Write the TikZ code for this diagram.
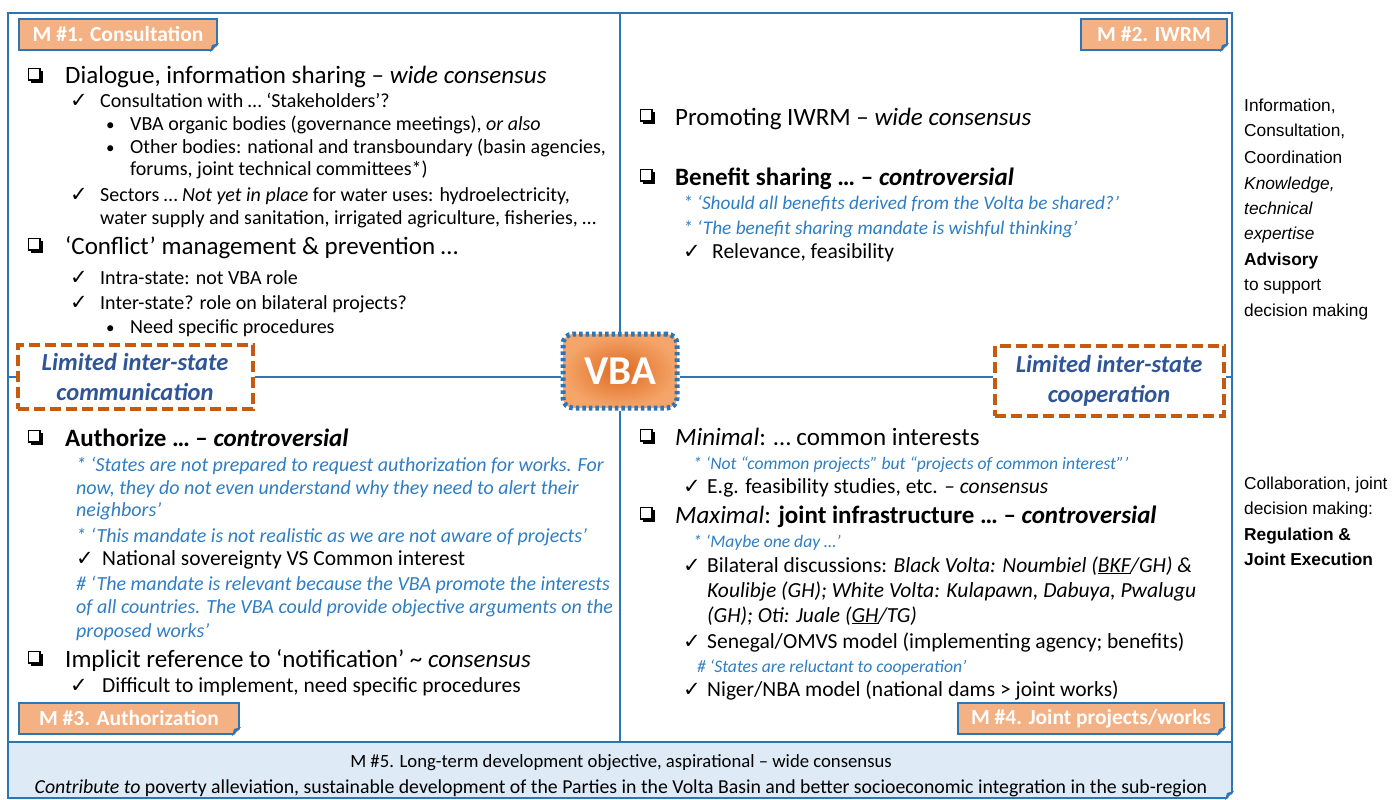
\documentclass[tikz,border=0pt]{standalone}
\usepackage{fontspec}
\setmainfont{Carlito}
\newfontfamily\arialfont{Liberation Sans}
\newfontfamily\symfont{DejaVu Sans}
\usetikzlibrary{calc}

\definecolor{frameblue}{HTML}{2E75B6}
\definecolor{labfill}{HTML}{F4B183}
\definecolor{dashorange}{HTML}{C55A11}
\definecolor{dashtext}{HTML}{2F5597}
\definecolor{quoteblue}{HTML}{2F7DC2}
\definecolor{mfivefill}{HTML}{DEEBF7}
\definecolor{vbainner}{HTML}{DE6A20}
\definecolor{vbaouter}{HTML}{F5A56A}

% check mark and bullet in fixed-width boxes, so the item text lines up
\newcommand{\ckm}[1]{\makebox[#1][l]{\symfont\fontsize{21}{21}\selectfont ✓}}
\newcommand{\bul}{\makebox[24pt][l]{\fontsize{17}{17}\selectfont •}}

% folded corner at the lower right of a label node
\newcommand{\fold}[1]{%
  \fill[white] ($(#1.south east)+(2,-8)$) -- ($(#1.south east)+(2,2)$) -- ($(#1.south east)+(-8,2)$) -- cycle;
  \fill[frameblue] ($(#1.south east)+(1,-8)$) -- ($(#1.south east)+(-8,1)$) -- ($(#1.south east)+(-6,-6)$) -- cycle;}

\tikzset{
  txt/.style={anchor=base west, inner sep=0pt, font=\fontsize{20}{24}\selectfont},
  big/.style={txt, font=\fontsize{21.5}{25}\selectfont},
  head/.style={txt, font=\fontsize{25}{29}\selectfont},
  quote/.style={txt, font=\fontsize{20}{24}\selectfont\itshape, text=quoteblue},
  smallquote/.style={quote, font=\fontsize{17.6}{21}\selectfont\itshape},
  side/.style={txt, font=\arialfont\fontsize{17.3}{20}\selectfont},
  mfive/.style={anchor=base, inner sep=0pt},
  lab/.style={draw=frameblue, line width=2pt, fill=labfill, text=white,
    font=\fontsize{21.5}{24}\selectfont\bfseries, minimum height=31, inner xsep=0pt, anchor=north west},
  limit/.style={draw=dashorange, line width=4pt, dash pattern=on 11pt off 5pt, fill=white,
    text=dashtext, font=\fontsize{24.5}{30}\selectfont\bfseries\itshape, align=center, inner sep=0pt},
  divider/.style={draw=frameblue, line width=2pt},
  qbox/.pic={\draw[line width=1.4pt] (0.7,0.7) rectangle (12,12);
             \fill (12,2.5) rectangle (15,15); \fill (2.5,12) rectangle (15,15);}
}

\begin{document}
\begin{tikzpicture}[x=1pt, y=-1pt]
\useasboundingbox (0,0) rectangle (1394,800);

% bottom band and main frame
\node[draw=frameblue, line width=2pt, fill=mfivefill, minimum width=1224, minimum height=56, inner sep=0pt] (m5) at (620,770) {};
\fold{m5}
\draw[frameblue, line width=2.5pt] (8,13) rectangle (1232,742);

% centre node and side boxes
\node[draw=frameblue, line width=5pt, dash pattern=on 3.5pt off 3pt, rounded corners=10pt,
      inner color=vbainner, outer color=vbaouter, minimum width=114, minimum height=74,
      text=white, font=\fontsize{41}{44}\selectfont\bfseries] (vba) at (620,371) {VBA};
\node[limit, minimum width=235, minimum height=64] (lcom) at (135,377) {};
\node[limit, minimum width=229, minimum height=70] (lcoop) at (1109,381) {};

% quadrant dividers
\coordinate (ftop) at (620,13);
\coordinate (fbot) at (620,742);
\coordinate (fl) at (8,377);
\coordinate (fr) at (1232,377);
\draw[divider] (ftop) -- (vba.north);
\draw[divider] (vba.south) -- (fbot);
\draw[divider] (fl) -- (lcom.west |- fl);
\draw[divider] (lcom.east |- fl) -- (vba.west |- fl);
\draw[divider] (vba.east |- fl) -- (lcoop.west |- fl);
\draw[divider] (lcoop.east |- fl) -- (fr);

% side box captions
\node[limit, draw=none, fill=none] (lcomt) at (lcom) {Limited inter-state\\communication};
\node[limit, draw=none, fill=none] (lcoopt) at (lcoop) {Limited inter-state\\cooperation};

% mandate labels
\node[lab, minimum width=198] (m1) at (18,18) {M \#1. Consultation};
\fold{m1}
\node[lab, minimum width=146] (m2) at (1080,18) {M \#2. IWRM};
\fold{m2}
\node[lab, minimum width=220] (m3) at (18,702) {M \#3. Authorization};
\fold{m3}
\node[lab, minimum width=266] (m4) at (957,702) {M \#4. Joint projects/works};
\fold{m4}

% M #1 consultation
\pic at (28,68) {qbox};
\node[head] (a1) at (65,84) {Dialogue, information sharing – \textit{wide consensus}};
\node[txt] (a2) at (70,107) {\ckm{30pt}Consultation with … ‘Stakeholders’?};
\node[txt] (a3) at (106,130) {\bul VBA organic bodies (governance meetings), \textit{or also}};
\node[txt] (a4) at (106,153) {\bul Other bodies: national and transboundary (basin agencies,};
\node[txt] (a5) at (130,175) {forums, joint technical committees*)};
\node[txt] (a6) at (70,201) {\ckm{30pt}Sectors … \textit{Not yet in place} for water uses: hydroelectricity,};
\node[txt] (a7) at (100,224) {water supply and sanitation, irrigated agriculture, fisheries, …};
\pic at (28,238) {qbox};
\node[head] (a8) at (65,254) {‘Conflict’ management \& prevention …};
\node[txt] (a9) at (70,284) {\ckm{30pt}Intra-state: not VBA role};
\node[txt] (a10) at (70,309) {\ckm{30pt}Inter-state? role on bilateral projects?};
\node[txt] (a11) at (106,333) {\bul Need specific procedures};

% M #2 IWRM
\pic at (640,109) {qbox};
\node[head] (b1) at (675,125) {Promoting IWRM – \textit{wide consensus}};
\pic at (640,169) {qbox};
\node[head] (b2) at (675,185) {\textbf{Benefit sharing … – \textit{controversial}}};
\node[quote, font=\fontsize{19.3}{23}\selectfont\itshape] (b3) at (683,209) {* ‘Should all benefits derived from the Volta be shared?’};
\node[quote, font=\fontsize{19.3}{23}\selectfont\itshape] (b4) at (683,234) {* ‘The benefit sharing mandate is wishful thinking’};
\node[big] (b5) at (683,258) {\ckm{29pt}Relevance, feasibility};

% M #3 authorization
\pic at (28,430) {qbox};
\node[head] (c1) at (65,446) {\textbf{Authorize … – \textit{controversial}}};
\node[quote] (c2) at (76,471) {* ‘States are not prepared to request authorization for works. For};
\node[quote] (c3) at (76,494) {now, they do not even understand why they need to alert their};
\node[quote] (c4) at (76,516) {neighbors’};
\node[quote] (c5) at (76,542) {* ‘This mandate is not realistic as we are not aware of projects’};
\node[big] (c6) at (76,565) {\ckm{26pt}National sovereignty VS Common interest};
\node[quote] (c7) at (76,590) {\# ‘The mandate is relevant because the VBA promote the interests};
\node[quote] (c8) at (76,613) {of all countries. The VBA could provide objective arguments on the};
\node[quote] (c9) at (76,637) {proposed works’};
\pic at (28,651) {qbox};
\node[head] (c10) at (65,667) {Implicit reference to ‘notification’ \textasciitilde{} \textit{consensus}};
\node[big] (c11) at (70,692) {\ckm{32pt}Difficult to implement, need specific procedures};

% M #4 joint projects
\pic at (640,429) {qbox};
\node[head] (e1) at (675,445) {\textit{Minimal}: … common interests};
\node[smallquote] (e2) at (693,469) {* ‘Not “common projects” but “projects of common interest”’};
\node[big] (e3) at (683,493) {\ckm{24pt}E.g. feasibility studies, etc. – \textit{consensus}};
\pic at (640,507) {qbox};
\node[head] (e4) at (675,523) {\textit{Maximal}: \textbf{joint infrastructure … – \textit{controversial}}};
\node[smallquote] (e5) at (693,547) {* ‘Maybe one day …’};
\node[big] (e6) at (683,572) {\ckm{24pt}Bilateral discussions: \textit{Black Volta: Noumbiel (\underline{BKF}/GH) \&}};
\node[big] (e7) at (707,597) {\textit{Koulibje (GH); White Volta: Kulapawn, Dabuya, Pwalugu}};
\node[big] (e8) at (707,622) {\textit{(GH); Oti: Juale (\underline{GH}/TG)}};
\node[big] (e9) at (683,648) {\ckm{24pt}Senegal/OMVS model (implementing agency; benefits)};
\node[smallquote] (e10) at (697,672) {\# ‘States are reluctant to cooperation’};
\node[big] (e11) at (683,696) {\ckm{24pt}Niger/NBA model (national dams > joint works)};

% M #5 long-term objective
\node[mfive, font=\fontsize{18.7}{22}\selectfont] (f1) at (621,767) {M \#5. Long-term development objective, aspirational – wide consensus};
\node[mfive, font=\fontsize{19.8}{23}\selectfont] (f2) at (621,793) {\textit{Contribute to} poverty alleviation, sustainable development of the Parties in the Volta Basin and better socioeconomic integration in the sub-region};

% side notes
\node[side] (s1) at (1244,111) {Information,};
\node[side] (s2) at (1244,136) {Consultation,};
\node[side] (s3) at (1244,163) {Coordination};
\node[side] (s4) at (1244,189) {\itshape Knowledge,};
\node[side] (s5) at (1244,214) {\itshape technical};
\node[side] (s6) at (1244,239) {\itshape expertise};
\node[side] (s7) at (1244,265) {\bfseries Advisory};
\node[side] (s8) at (1244,290) {to support};
\node[side] (s9) at (1244,316) {decision making};
\node[side] (s10) at (1244,489) {Collaboration, joint};
\node[side] (s11) at (1244,514) {decision making:};
\node[side] (s12) at (1244,540) {\bfseries Regulation \&};
\node[side] (s13) at (1244,565) {\bfseries Joint Execution};
\end{tikzpicture}
\end{document}
